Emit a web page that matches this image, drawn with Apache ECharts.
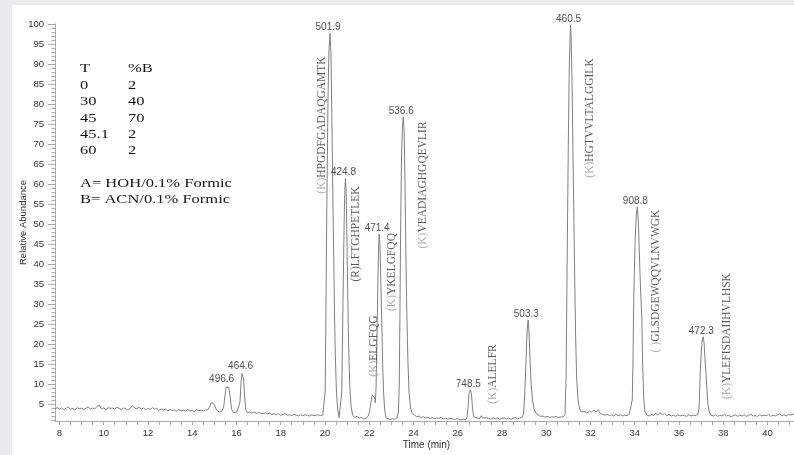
<!DOCTYPE html>
<html><head><meta charset="utf-8">
<script src="https://cdn.jsdelivr.net/npm/echarts@6/dist/echarts.min.js"></script>
<style>html,body{margin:0;padding:0;background:#fff}#c{width:794px;height:455px}</style>
</head><body><div id="c"></div>
<script>
// ---- data ----
const xTickLabels = [8,10,12,14,16,18,20,22,24,26,28,30,32,34,36,38,40];
const yTickLabels = [5,10,15,20,25,30,35,40,45,50,55,60,65,70,75,80,85,90,95,100];

const traceEarly = [
[7.8,3.8],[7.9,4.1],[8.0,3.7],[8.1,4.0],[8.2,3.6],[8.3,3.9],[8.4,4.2],[8.5,3.7],[8.6,3.9],[8.7,3.5],[8.8,4.1],[8.9,3.8],[9.0,4.0],[9.1,3.6],[9.2,3.9],[9.3,4.3],[9.4,3.7],[9.5,4.0],[9.6,3.8],[9.7,4.4],[9.8,4.7],[9.9,3.8],[10.0,4.0],[10.1,3.6],[10.2,4.1],[10.3,3.9],[10.4,4.0],[10.5,3.7],[10.6,4.2],[10.7,3.9],[10.8,3.6],[10.9,4.0],[11.0,3.8],[11.1,3.5],[11.2,3.9],[11.3,4.6],[11.4,4.0],[11.5,3.8],[11.6,4.2],[11.7,3.7],[11.8,4.0],[11.9,3.6],[12.0,3.9],[12.1,3.6],[12.2,4.1],[12.3,3.7],[12.4,3.9],[12.5,3.4],[12.6,3.8],[12.7,3.5],[12.8,3.7],[12.9,3.3],[13.0,3.6],[13.1,3.4],[13.2,3.5],[13.3,3.2],[13.4,3.6],[13.5,3.3],[13.6,3.5],[13.7,3.2],[13.8,3.6],[13.9,3.3],[14.0,3.4],[14.1,3.1],[14.2,3.6],[14.3,3.3],[14.4,3.5],[14.5,3.2],[14.6,3.6],[14.7,3.5],
[14.8,4.4],[14.87,5.4],[14.94,5.6],[15.0,4.9],[15.07,3.8],[15.15,3.2],[15.25,3.0],[15.35,3.3],
[15.43,4.5],[15.49,7.5],[15.54,9.3],[15.6,9.7],[15.66,9.0],[15.72,6.5],[15.78,3.8],[15.85,2.9],[15.93,2.8],[16.02,3.0],[16.1,3.1],
[16.16,5.5],[16.21,10.5],[16.25,12.6],[16.28,12.9],[16.32,11.5],[16.37,7.0],[16.42,3.6],[16.5,2.8],[16.6,3.0],[16.7,2.7],[16.8,3.0],[16.9,2.6],[17.0,2.9],[17.1,2.7],[17.2,2.5],[17.3,2.8],[17.4,2.6],[17.5,2.7],[17.6,2.4],[17.7,2.6],[17.8,2.3],[17.9,2.6],[18.0,2.2],[18.1,2.4],[18.2,2.6],[18.3,2.2],[18.4,2.3],[18.5,2.1],[18.6,2.4],[18.7,2.2],[18.8,2.0],[18.9,2.3],[19.0,2.1],[19.1,2.3],[19.2,2.2],[19.3,2.0],[19.4,2.3],[19.5,2.1],[19.6,2.2],[19.7,2.3],[19.8,2.1],[19.9,2.2],[19.97,2.4]
];
const traceMid = [
[20.01,8],[20.04,25],[20.07,45],[20.1,62],[20.14,82],[20.18,93],[20.23,97.7],[20.27,93],[20.31,78],[20.35,60],[20.39,45],[20.43,28],[20.47,17],[20.52,8],[20.58,3.5],[20.64,1.6],[20.68,1.2],
[20.72,2.0],[20.76,8],[20.8,24],[20.84,40],[20.88,54],[20.91,60],[20.93,61.4],[20.96,58],[20.99,48],[21.03,33],[21.07,20],[21.12,10],[21.18,4.5],[21.25,2.2],[21.35,1.7],[21.45,1.9],[21.55,1.5],[21.65,1.6],[21.75,1.3],[21.85,1.4],[21.95,1.9],
[22.02,3.2],[22.08,5.5],[22.14,7.3],[22.19,7.7],[22.24,6.6],[22.28,5.3],
[22.31,9],[22.35,20],[22.39,34],[22.42,43],[22.45,47.5],[22.49,44],[22.53,35],[22.57,25],[22.61,15],[22.65,8],[22.7,3.5],[22.76,1.6],[22.85,1.2],[22.95,1.1],[23.05,1.3],[23.15,1.2],[23.25,1.5],
[23.32,3],[23.36,10],[23.39,28],[23.42,48],[23.46,66],[23.5,74],[23.54,76.8],[23.58,73],[23.62,60],[23.66,42],[23.7,28],[23.75,16],[23.8,8],[23.87,4],[23.95,2.6],[24.05,2.2],[24.15,1.8],[24.25,2.0],[24.35,1.6],[24.45,1.8],[24.55,1.5],[24.65,1.7],[24.75,1.4],[24.85,1.6],[24.95,1.3],[25.05,1.5],[25.15,1.4],[25.25,1.6],[25.35,1.3],[25.45,1.5],[25.55,1.2],[25.65,1.4],[25.75,1.3],[25.85,1.1],[25.95,1.3],[26.05,1.2],[26.15,1.0],[26.25,1.2],[26.35,1.0],[26.42,1.6]
];
const traceLate = [
[26.47,4.5],[26.52,7.8],[26.57,8.5],[26.62,7.6],[26.67,4],[26.72,1.8],[26.8,1.3],[26.9,1.5],[27.0,1.4],[27.07,2.1],[27.12,1.5],[27.2,1.3],[27.3,1.6],[27.4,1.4],[27.5,1.2],[27.6,1.5],[27.7,1.3],[27.8,1.5],[27.9,1.2],[28.0,1.4],[28.1,1.5],[28.2,1.3],[28.3,1.5],[28.4,1.2],[28.5,1.4],[28.6,1.6],[28.7,1.3],[28.8,1.5],[28.9,1.6],[28.97,2.4],
[29.02,6],[29.07,13],[29.12,21],[29.16,25],[29.19,26],[29.23,22],[29.27,16],[29.32,10],[29.38,6],[29.45,3.8],[29.55,2.6],[29.65,2.2],[29.75,1.9],[29.85,2.0],[29.95,1.7],[30.05,1.9],[30.15,1.6],[30.25,1.8],[30.35,1.7],[30.45,1.9],[30.55,1.6],[30.65,1.8],[30.75,1.7],[30.85,2.2],
[30.9,12],[30.93,30],[30.96,48],[31.0,70],[31.04,88],[31.08,97],[31.1,99.7],[31.13,96],[31.17,85],[31.21,68],[31.25,52],[31.29,36],[31.33,22],[31.38,11],[31.44,6],[31.5,4],[31.58,3.0],[31.66,2.6],[31.75,3.1],[31.85,2.7],[31.95,3.3],[32.05,2.9],[32.15,3.5],[32.25,3.0],[32.35,3.6],[32.45,2.6],[32.55,2.4],[32.65,2.2],[32.75,2.5],[32.85,2.1],[32.95,2.3],[33.05,2.0],[33.15,2.4],[33.25,2.1],[33.35,2.3],[33.45,2.0],[33.55,2.2],[33.65,2.1],[33.75,2.4],[33.84,2.6],
[33.89,6],[33.92,15],[33.96,32],[34.02,46],[34.07,52],[34.12,54.3],[34.17,50],[34.22,41],[34.27,33],[34.32,27],[34.36,15],[34.41,6],[34.47,3],[34.55,2.3],[34.65,2.0],[34.75,2.4],[34.85,2.1],[34.95,2.7],[35.05,2.2],[35.15,2.9],[35.25,2.3],[35.35,2.6],[35.45,2.1],[35.55,2.4],[35.65,2.0],[35.75,2.2],[35.85,1.9],[35.95,2.3],[36.05,2.0],[36.15,2.2],[36.25,2.1],[36.35,1.9],[36.45,2.3],[36.55,2.0],[36.65,2.2],[36.75,2.1],[36.85,2.4],
[36.91,4],[36.94,9],[36.97,14],[37.02,19],[37.06,21.2],[37.1,21.8],[37.14,20],[37.18,16],[37.22,13],[37.26,9],[37.31,5],[37.37,3],[37.45,2.2],[37.55,2.0],[37.65,2.3],[37.75,1.9],[37.85,2.2],[37.95,2.0],[38.05,2.4],[38.15,2.0],[38.25,2.2],[38.35,1.8],[38.45,2.1],[38.55,2.3],[38.65,1.9],[38.75,2.2],[38.85,2.0],[38.95,2.3],[39.05,1.9],[39.15,2.2],[39.25,2.4],[39.35,2.0],[39.45,2.1],[39.55,1.9],[39.65,2.3],[39.75,2.0],[39.85,2.2],[39.95,2.1],[40.05,2.4],[40.15,1.9],[40.25,2.2],[40.35,2.0],[40.45,2.3],[40.55,2.5],[40.65,2.1],[40.75,2.3],[40.85,2.0],[40.95,2.4],[41.05,2.2],[41.15,2.5],[41.2,2.3]
];

const peakTimes   = [15.6, 16.28, 20.23, 20.93, 22.45, 23.54, 26.57, 29.19, 31.1, 34.12, 37.1];
const peakHeights = [9.7, 12.9, 97.7, 61.4, 47.5, 76.8, 8.5, 26, 99.7, 54.3, 21.8];
const peakMz      = ['496.6','464.6','501.9','424.8','471.4','536.6','748.5','503.3','460.5','908.8','472.3'];

const peptidePrefix = ['(K)','(R)','(K)','(K)','(K)','(K)','(K)','( )','(K)'];
const peptideSeq    = ['HPGDFGADAQGAMTK','LFTGHPETLEK','ELGFQG','YKELGFQQ','VEADIAGHGQEVLIR','ALELFR','HGTVVLTALGGILK','GLSDGEWQQVLNVWGK','YLEFISDAIIHVLHSK'];
const peptideTimes  = [19.86, 21.40, 22.21, 23.03, 24.43, 27.59, 31.98, 34.96, 38.17];
const peptideLevels = [74.75, 47.5, 19.5, 38, 59.75, 12.5, 76.5, 35.75, 22];

const gradientT = ['0','30','45','45.1','60'];
const gradientB = ['2','40','70','2','2'];
const solventLines = ['A= HOH/0.1% Formic','B= ACN/0.1% Formic'];

// ---- build ----
const trace = traceEarly.concat(traceMid, traceLate);
const minorX = []; for (let t = 8; t <= 41.0001; t += 0.5) minorX.push(+t.toFixed(1));
const minorY = []; for (let v = 1; v <= 100; v++) minorY.push(v);

const axisGray = '#a9a9a9';
const sans = '"Liberation Sans", Arial, sans-serif';
const serif = '"Liberation Serif", "Times New Roman", serif';

const graphics = [
  {type:'rect', shape:{x:0,y:0,width:794,height:5}, style:{fill:'#e9ecef'}, silent:true},
  {type:'rect', shape:{x:0,y:0,width:12,height:455}, style:{fill:'#e9ecef'}, silent:true}
];
const rowY = [85.4, 101.8, 118.2, 134.6, 151];
function tableText(txt, x, y) {
  return {type:'text', x:x, y:y, scaleX:1.27, silent:true,
    style:{text:txt, font:'13px ' + serif, fill:'#151515', textVerticalAlign:'middle', verticalAlign:'middle'}};
}
graphics.push(tableText('T', 80, 69));
graphics.push(tableText('%B', 128, 69));
gradientT.forEach((t,i) => { graphics.push(tableText(t, 80, rowY[i])); graphics.push(tableText(gradientB[i], 128, rowY[i])); });
graphics.push(tableText(solventLines[0], 80, 184));
graphics.push(tableText(solventLines[1], 80, 200));

const option = {
  backgroundColor:'#ffffff',
  animation:false,
  grid:{left:55, right:0, top:24, bottom:34, containLabel:false, outerBoundsMode:'none'},
  xAxis:[{
    type:'value', min:7.8, max:41.2,
    axisLine:{show:true, lineStyle:{color:axisGray, width:1}},
    axisTick:{show:true, customValues:minorX, length:4, lineStyle:{color:axisGray}},
    axisLabel:{customValues:xTickLabels, margin:7, fontSize:9.5, color:'#333', fontFamily:sans},
    splitLine:{show:false},
    name:'Time (min)', nameLocation:'middle', nameGap:19, nameMoveOverlap:false,
    nameTextStyle:{fontSize:10, color:'#333', fontFamily:sans, padding:[0,0,0,4]}
  }],
  yAxis:[{
    type:'value', min:0.75, max:100,
    axisLine:{show:true, lineStyle:{color:axisGray, width:1}},
    axisTick:{show:true, customValues:minorY, length:3.5, lineStyle:{color:axisGray}},
    axisLabel:{customValues:yTickLabels, margin:11, fontSize:9.5, color:'#333', fontFamily:sans},
    splitLine:{show:false},
    name:'Relative Abundance', nameLocation:'middle', nameGap:27, nameRotate:90, nameMoveOverlap:false,
    nameTextStyle:{fontSize:9.5, color:'#333', fontFamily:sans}
  },{
    type:'value', min:0.75, max:100, position:'left',
    axisLine:{show:false},
    axisTick:{show:true, customValues:yTickLabels, length:7, lineStyle:{color:axisGray}},
    axisLabel:{show:false}, splitLine:{show:false}
  }],
  series:[
    {type:'line', data:trace, showSymbol:false, symbol:'none', silent:true,
     lineStyle:{color:'#808080', width:1}, z:2},
    {type:'scatter', silent:true, symbolSize:0, z:5,
     data: peakTimes.map((t,i) => ({value:[t, peakHeights[i], peakMz[i]],
       label: peakMz[i] === '496.6' ? {offset:[-6,0]} : undefined})),
     label:{show:true, position:'top', distance:1, offset:[-2,0],
       formatter:p => p.value[2], fontSize:10, color:'#222', fontFamily:sans}},
    {type:'scatter', silent:true, symbolSize:0, z:5,
     data: peptideTimes.map((t,i) => [t, peptideLevels[i], i]),
     label:{show:true, position:'inside', rotate:90,
       formatter:p => {
         const i = p.value[2];
         const st = peptidePrefix[i] === '(R)' ? 'b' : 'g';
         return '{' + st + '|' + peptidePrefix[i] + '}{b|' + peptideSeq[i] + '}';
       },
       rich:{
         g:{color:'#9a9a9a', fontSize:11.5, fontFamily:serif},
         b:{color:'#333333', fontSize:11.5, fontFamily:serif}
       }}}
  ],
  graphic:{elements:graphics}
};
const chart = echarts.init(document.getElementById('c'), null, {renderer:'canvas'});
chart.setOption(option);
</script>
</body></html>
